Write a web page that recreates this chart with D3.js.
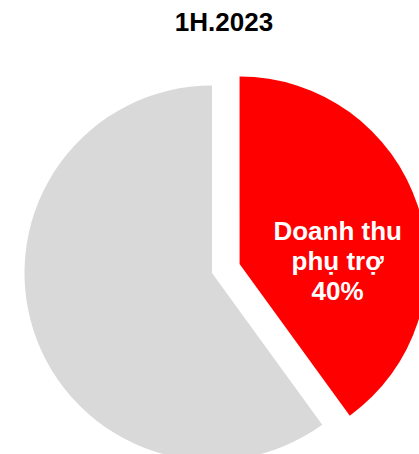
<!DOCTYPE html>
<html>
<head>
<meta charset="utf-8">
<script src="https://cdn.jsdelivr.net/npm/d3@7"></script>
<style>
  body { margin: 0; background: #fff; }
  svg { display: block; font-family: "Liberation Sans", Arial, sans-serif; }
</style>
</head>
<body>
<svg id="chart" width="419" height="454"></svg>
<script>
// chart data
const title = "1H.2023";
const categories = ["Doanh thu phụ trợ", "Doanh thu khác"];
const values = [40, 60];
const labelLines = [["Doanh thu", "phụ trợ", "40%"], null];
const colors = ["#ff0000", "#d9d9d9"];
const exploded = [true, false];

const width = 419, height = 454;
const cx = 212, cy = 273;
const radius = 187.5;
const explode = 29;

const svg = d3.select("#chart");

svg.append("text")
  .attr("x", 224)
  .attr("y", 31)
  .attr("text-anchor", "middle")
  .style("font-size", "26px")
  .style("font-weight", "bold")
  .style("fill", "#000")
  .text(title);

const data = categories.map((c, i) => ({ name: c, value: values[i], i: i }));

const pie = d3.pie()
  .sort(null)
  .value(d => d.value);

const arc = d3.arc()
  .innerRadius(0)
  .outerRadius(radius);

const g = svg.append("g")
  .attr("transform", "translate(" + cx + "," + cy + ")");

const slices = g.selectAll(".slice")
  .data(pie(data))
  .enter().append("g")
  .attr("class", "slice")
  .attr("transform", function(d) {
    if (!exploded[d.data.i]) return null;
    const a = (d.startAngle + d.endAngle) / 2;
    return "translate(" + (Math.sin(a) * explode) + "," + (-Math.cos(a) * explode) + ")";
  });

slices.append("path")
  .attr("d", arc)
  .style("fill", d => colors[d.data.i]);

slices.filter(d => labelLines[d.data.i])
  .append("text")
  .attr("text-anchor", "middle")
  .style("font-size", "26px")
  .style("font-weight", "bold")
  .style("fill", "#fff")
  .selectAll("tspan")
  .data(d => labelLines[d.data.i])
  .enter().append("tspan")
  .attr("x", radius * 0.523)
  .attr("y", (d, k) => -24 + k * 30)
  .text(d => d);
</script>
</body>
</html>
